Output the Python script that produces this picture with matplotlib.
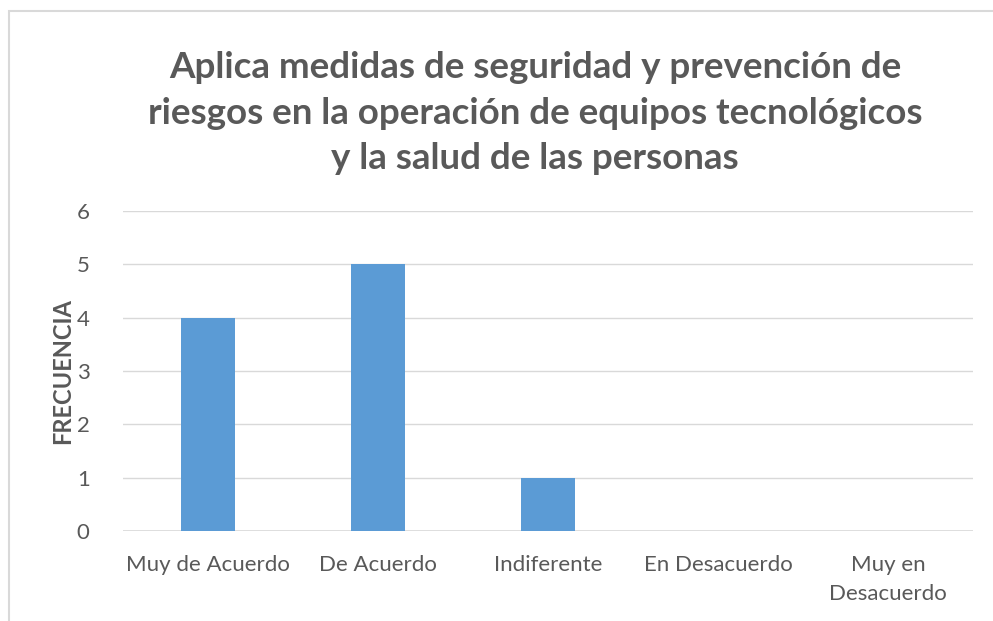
import matplotlib
matplotlib.use("Agg")
import matplotlib.pyplot as plt
from matplotlib.patches import Rectangle

categories = ["Muy de Acuerdo", "De Acuerdo", "Indiferente", "En Desacuerdo", "Muy en\nDesacuerdo"]
frecuencia = [4, 5, 1, 0, 0]
yticks = [0, 1, 2, 3, 4, 5, 6]

TEXT = "#595959"
BAR = "#5b9bd5"
GRID = "#d9d9d9"

plt.rcParams["font.family"] = ["Lato", "DejaVu Sans"]

fig = plt.figure(figsize=(9.93, 6.21), dpi=100)
W, H = 993, 621
ax = fig.add_axes([123 / W, 1 - 531 / H, 850 / W, 320 / H])

x = list(range(len(categories)))
ax.bar(x, frecuencia, width=0.32, color=BAR, zorder=3)
ax.set_xlim(-0.5, len(categories) - 0.5)
ax.set_ylim(0, 6)
ax.set_yticks(yticks)
ax.set_yticklabels([str(t) for t in yticks])
ax.set_xticks(x)
ax.set_xticklabels(categories, linespacing=1.6)
ax.tick_params(axis="both", length=0, colors=TEXT, labelsize=16)
ax.tick_params(axis="x", pad=17)
ax.tick_params(axis="y", pad=24)
ax.yaxis.grid(True, color=GRID, lw=1.0, zorder=0)
for s in ax.spines.values():
    s.set_visible(False)
ax.axhline(0, color=GRID, lw=1.2, zorder=2)

ax.set_ylabel("FRECUENCIA", fontsize=17, fontweight="bold", color=TEXT, labelpad=2)

fig.text(535 / W, 1 - 113 / H,
         "Aplica medidas de seguridad y prevención de\n"
         "riesgos en la operación de equipos tecnológicos\n"
         "y la salud de las personas",
         ha="center", va="center", fontsize=26.5, fontweight="bold", color=TEXT,
         linespacing=1.45)

# outer chart border (cropped at right and bottom)
fig.patches.append(Rectangle((9 / W, -0.1), 1.2, 1 - 11 / H + 0.1,
                             transform=fig.transFigure, fill=False,
                             edgecolor=GRID, lw=1.5))

fig.savefig("out.png", dpi=100, facecolor="white")
